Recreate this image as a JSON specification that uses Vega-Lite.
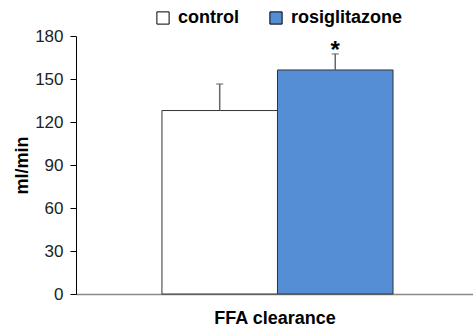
{
  "$schema": "https://vega.github.io/schema/vega-lite/v6.json",
  "autosize": {"type": "none"},
  "padding": {"left": 76, "top": 36, "right": 0, "bottom": 38},
  "width": 397,
  "height": 258,
  "config": {
    "view": {"stroke": null},
    "font": "Liberation Sans",
    "axis": {"grid": false}
  },
  "data": {
    "values": [
      {"measure": "FFA clearance", "group": "control", "value": 128, "upper": 146.5, "sig": ""},
      {"measure": "FFA clearance", "group": "rosiglitazone", "value": 156.3, "upper": 167.5, "sig": "*"}
    ]
  },
  "encoding": {
    "x": {
      "field": "measure",
      "type": "nominal",
      "scale": {"paddingInner": 0, "paddingOuter": 0.359, "align": 0.518},
      "axis": {
        "labels": false,
        "ticks": false,
        "domainColor": "#888888",
        "domainWidth": 1.5,
        "title": "FFA clearance",
        "titleFontSize": 18,
        "titleFontWeight": "bold",
        "titleColor": "#000000",
        "titlePadding": 15
      }
    },
    "xOffset": {
      "field": "group",
      "type": "nominal",
      "scale": {"paddingInner": 0, "paddingOuter": 0}
    }
  },
  "layer": [
    {
      "mark": {"type": "bar", "stroke": "#333333", "strokeWidth": 1},
      "encoding": {
        "y": {
          "field": "value",
          "type": "quantitative",
          "scale": {"domain": [0, 180], "nice": false},
          "axis": {
            "values": [0, 30, 60, 90, 120, 150, 180],
            "title": "ml/min",
            "titleFontSize": 18,
            "titleFontWeight": "bold",
            "titleColor": "#000000",
            "titlePadding": 3,
            "labelFontSize": 17,
            "labelColor": "#222222",
            "labelPadding": 7,
            "tickSize": 6,
            "tickColor": "#000000",
            "domainColor": "#000000"
          }
        },
        "fill": {
          "field": "group",
          "type": "nominal",
          "scale": {"domain": ["control", "rosiglitazone"], "range": ["#ffffff", "#558ED5"]},
          "legend": {
            "title": null,
            "orient": "none",
            "direction": "horizontal",
            "legendX": 78,
            "legendY": -27,
            "padding": 0,
            "symbolType": "square",
            "symbolSize": 150,
            "symbolStrokeColor": "#000000",
            "symbolStrokeWidth": 1,
            "labelFontSize": 18,
            "labelFontWeight": "bold",
            "labelColor": "#000000",
            "labelOffset": 6,
            "columnPadding": 28
          }
        }
      }
    },
    {
      "mark": {"type": "rule", "color": "#666666", "strokeWidth": 1.5},
      "encoding": {
        "y": {"field": "value", "type": "quantitative"},
        "y2": {"field": "upper"}
      }
    },
    {
      "mark": {"type": "tick", "color": "#666666", "size": 7, "thickness": 1.5},
      "encoding": {
        "y": {"field": "upper", "type": "quantitative"}
      }
    },
    {
      "mark": {"type": "text", "fontSize": 24, "fontWeight": "bold", "baseline": "alphabetic", "dy": 4, "color": "#000000"},
      "encoding": {
        "y": {"field": "upper", "type": "quantitative"},
        "text": {"field": "sig"}
      }
    }
  ]
}
